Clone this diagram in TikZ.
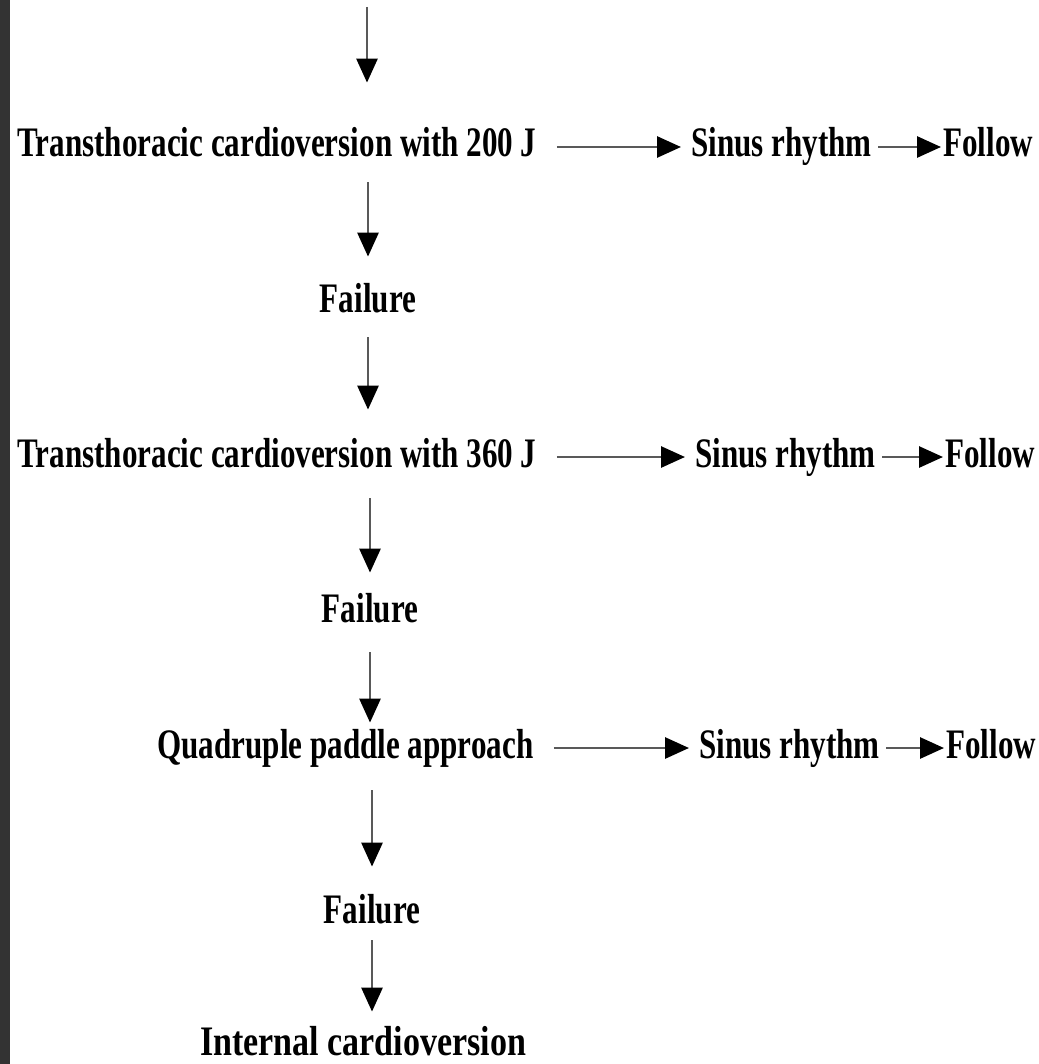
\documentclass[tikz,border=0pt]{standalone}
\usepackage{fontspec}
\setmainfont[FakeStretch=0.74]{Liberation Serif}
\newfontfamily\lastfont[FakeStretch=0.81]{Liberation Serif}
\usetikzlibrary{arrows.meta}
\begin{document}
\begin{tikzpicture}[x=0.5pt,y=-0.5pt,
		lbl/.style={inner sep=0pt, anchor=base west, font=\fontsize{21}{25}\selectfont\bfseries, text height=14pt, text depth=4pt},
		arr/.style={draw=black!65, line width=1.4pt, -{Triangle[length=12pt,width=10.5pt,color=black]}}]
		\useasboundingbox (0,0) rectangle (1038,1064);
		\fill[black!80] (0,0) rectangle (10,1064);
		
		% steps
		\coordinate (top) at (367,7);
		\node[lbl] (tc1) at (17,157) {Transthoracic cardioversion with 200 J};
		\node[lbl, anchor=base] (fail1) at (368,312) {Failure};
		\node[lbl] (tc2) at (17,467) {Transthoracic cardioversion with 360 J};
		\node[lbl, anchor=base] (fail2) at (370,622) {Failure};
		\node[lbl] (quad) at (157,758) {Quadruple paddle approach};
		\node[lbl, anchor=base] (fail3) at (372,923) {Failure};
		\node[lbl, anchor=base, text depth=0pt, font=\fontsize{21}{25}\selectfont\bfseries\lastfont] (internal) at (363,1055) {Internal cardioversion};
		
		% outcomes
		\foreach \n/\y/\sx/\fx in {tc1/157/691/943, tc2/467/695/945, quad/758/699/946}{
			\node[lbl] (sinus-\n) at (\sx,\y) {Sinus rhythm};
			\node[lbl] (follow-\n) at (\fx,\y) {Follow};
			\draw[arr, shorten <=10pt, shorten >=5pt] (\n.east) -- (sinus-\n.west);
			\draw[arr, shorten <=3pt, shorten >=1pt] (sinus-\n.east) -- (follow-\n.west);
		}
		
		% main column
		\draw[arr, shorten >=23pt] (top) -- (tc1.north -| top);
		\draw[arr, shorten <=8.5pt, shorten >=13.5pt] (tc1.south -| fail1) -- (fail1.north);
		\draw[arr, shorten <=8.5pt, shorten >=14.5pt] (fail1.south) -- (tc2.north -| fail1);
		\draw[arr, shorten <=11.5pt, shorten >=10.5pt] (tc2.south -| fail2) -- (fail2.north);
		\draw[arr, shorten <=11pt, shorten >=3.5pt] (fail2.south) -- (quad.north -| fail2);
		\draw[arr, shorten <=12pt, shorten >=14pt] (quad.south -| fail3) -- (fail3.north);
		\draw[arr, shorten <=4.5pt, shorten >=7.5pt] (fail3.south) -- (internal.north -| fail3);
\end{tikzpicture}
\end{document}
